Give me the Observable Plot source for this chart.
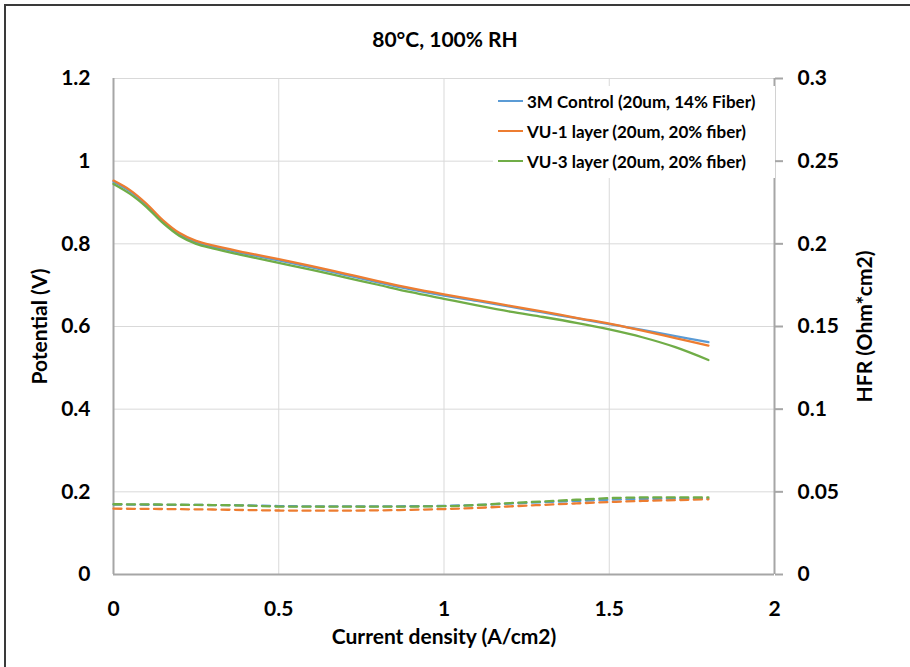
<!DOCTYPE html>
<html>
<head>
<meta charset="utf-8">
<script src="https://cdn.jsdelivr.net/npm/d3@7"></script>
<script src="https://cdn.jsdelivr.net/npm/@observablehq/plot@0.6"></script>
<style>
  html, body { margin: 0; padding: 0; background: #fff; }
  #wrap { position: relative; width: 910px; height: 667px; overflow: hidden; font-family: Lato, "Open Sans", sans-serif; font-weight: bold; color: #000; }
  #frame { position: absolute; left: 4px; top: 4px; width: 1000px; height: 800px; border-left: 2px solid #3a3a3a; border-top: 2px solid #3a3a3a; }
  #chart { position: absolute; left: 0; top: 0; }
  #title { position: absolute; left: 245px; top: 26px; width: 400px; text-align: center; font-size: 21px; }
  #legend { position: absolute; left: 493px; top: 86px; width: 282px; height: 92px; background: #fff; font-size: 17px; }
  .item { position: absolute; left: 5px; height: 22px; display: flex; align-items: center; white-space: nowrap; }
  .swatch { width: 25px; height: 2.5px; margin-right: 4px; }
  .axis-title { font-size: 24px; }
</style>
</head>
<body>
<div id="wrap">
  <div id="frame"></div>
  <div id="chart"></div>
  <div id="title"></div>
  <div id="legend"></div>
</div>
<script>
// Polarization curves (potential, V) sampled along current density (A/cm2)
const current = [0, 0.05, 0.1, 0.15, 0.2, 0.25, 0.3, 0.4, 0.5, 0.6, 0.7, 0.8, 0.9, 1.0, 1.1, 1.2, 1.3, 1.4, 1.5, 1.6, 1.7, 1.8];
const potential3M  = [0.950, 0.927, 0.894, 0.854, 0.823, 0.804, 0.793, 0.776, 0.760, 0.743, 0.725, 0.707, 0.690, 0.675, 0.662, 0.648, 0.634, 0.620, 0.606, 0.592, 0.577, 0.562];
const potentialVU1 = [0.953, 0.930, 0.897, 0.857, 0.826, 0.807, 0.796, 0.779, 0.763, 0.746, 0.728, 0.710, 0.693, 0.678, 0.664, 0.650, 0.636, 0.621, 0.607, 0.590, 0.572, 0.554];
const potentialVU3 = [0.945, 0.921, 0.889, 0.850, 0.819, 0.800, 0.789, 0.771, 0.754, 0.737, 0.719, 0.701, 0.683, 0.667, 0.651, 0.636, 0.623, 0.609, 0.593, 0.574, 0.550, 0.519];

// High-frequency resistance (Ohm*cm2), secondary axis
const hfrCurrent = [0, 0.1, 0.2, 0.3, 0.4, 0.5, 0.6, 0.7, 0.8, 0.9, 1.0, 1.1, 1.2, 1.3, 1.4, 1.5, 1.6, 1.7, 1.8];
const hfr3M  = [0.0423, 0.0422, 0.0421, 0.0420, 0.0418, 0.0414, 0.0412, 0.0412, 0.0412, 0.0413, 0.0415, 0.0421, 0.0429, 0.0437, 0.0445, 0.0452, 0.0457, 0.0459, 0.0460];
const hfrVU1 = [0.0398, 0.0397, 0.0395, 0.0393, 0.0390, 0.0387, 0.0386, 0.0386, 0.0388, 0.0391, 0.0396, 0.0403, 0.0412, 0.0421, 0.0430, 0.0438, 0.0445, 0.0450, 0.0455];
const hfrVU3 = [0.0425, 0.0424, 0.0422, 0.0420, 0.0417, 0.0411, 0.0410, 0.0410, 0.0410, 0.0411, 0.0413, 0.0420, 0.0432, 0.0442, 0.0452, 0.0462, 0.0466, 0.0467, 0.0467];

const seriesNames = ["3M Control (20um, 14% Fiber)", "VU-1 layer (20um, 20% fiber)", "VU-3 layer (20um, 20% fiber)"];
const seriesColors = ["#5B9BD5", "#ED7D31", "#70AD47"];

const xTicks = [0, 0.5, 1, 1.5, 2];
const potentialTicks = [0, 0.2, 0.4, 0.6, 0.8, 1, 1.2];
const hfrTicks = [0, 0.05, 0.1, 0.15, 0.2, 0.25, 0.3];
const hfrToPotential = 1.2 / 0.3; // secondary axis shares the primary scale

const potentialSets = [potential3M, potentialVU1, potentialVU3];
const hfrSets = [hfr3M, hfrVU1, hfrVU3];

const vRows = potentialSets.flatMap((vals, i) => vals.map((v, j) => ({series: seriesNames[i], x: current[j], y: v})));
const hRows = hfrSets.flatMap((vals, i) => vals.map((v, j) => ({series: seriesNames[i], x: hfrCurrent[j], y: v * hfrToPotential})));

const gray = "#a6a6a6";
const tickFont = 21;

const chart = Plot.plot({
  width: 910,
  height: 667,
  marginLeft: 113,
  marginRight: 136,
  marginTop: 78,
  marginBottom: 93,
  style: {fontFamily: "Lato, 'Open Sans', sans-serif", fontWeight: "bold", fontSize: tickFont + "px", color: "#000", background: "transparent", overflow: "visible"},
  x: {domain: [0, 2]},
  y: {domain: [0, 1.2]},
  color: {domain: seriesNames, range: seriesColors},
  marks: [
    Plot.gridY(potentialTicks, {stroke: "#d9d9d9", strokeOpacity: 1, strokeWidth: 1}),
    Plot.gridX(xTicks.filter(d => d > 0 && d < 2), {stroke: "#d9d9d9", strokeOpacity: 1, strokeWidth: 1}),
    Plot.axisY(potentialTicks, {
      anchor: "left", tickSize: 0, tickPadding: 23, tickFormat: d => String(d),
      label: null
    }),
    Plot.axisY({
      anchor: "left", ticks: [], label: "Potential (V)", labelAnchor: "center", labelArrow: "none", labelOffset: 81,
      className: "axis-title"
    }),
    Plot.axisY(hfrTicks.map(t => t * hfrToPotential), {
      anchor: "right", tickSize: 8, tickPadding: 15, stroke: gray, strokeWidth: 2, strokeOpacity: 1,
      tickFormat: d => String(+(d / hfrToPotential).toFixed(2)),
      label: null
    }),
    Plot.axisY({
      anchor: "right", ticks: [], label: "HFR (Ohm*cm2)", labelAnchor: "center", labelArrow: "none", labelOffset: 97,
      className: "axis-title"
    }),
    Plot.axisX(xTicks, {
      tickSize: 0, tickPadding: 27, tickFormat: d => String(d), label: null
    }),
    Plot.axisX({
      ticks: [], label: "Current density (A/cm2)", labelAnchor: "center", labelArrow: "none", labelOffset: 69,
      className: "axis-title"
    }),
    Plot.ruleX([0, 2], {stroke: gray, strokeWidth: 2}),
    Plot.ruleY([0], {stroke: gray, strokeWidth: 2}),
    Plot.line(hRows, {x: "x", y: "y", z: "series", stroke: "series", strokeWidth: 2.3, strokeDasharray: "8,5.5", curve: "catmull-rom"}),
    Plot.line(vRows, {x: "x", y: "y", z: "series", stroke: "series", strokeWidth: 2.3, curve: "catmull-rom"})
  ]
});
document.getElementById("chart").appendChild(chart);

document.getElementById("title").textContent = "80°C, 100% RH";

const legend = document.getElementById("legend");
seriesNames.forEach((name, i) => {
  const item = document.createElement("div");
  item.className = "item";
  item.style.top = (4 + i * 30) + "px";
  const sw = document.createElement("span");
  sw.className = "swatch";
  sw.style.background = seriesColors[i];
  const label = document.createElement("span");
  label.textContent = name;
  item.appendChild(sw);
  item.appendChild(label);
  legend.appendChild(item);
});
</script>
</body>
</html>
